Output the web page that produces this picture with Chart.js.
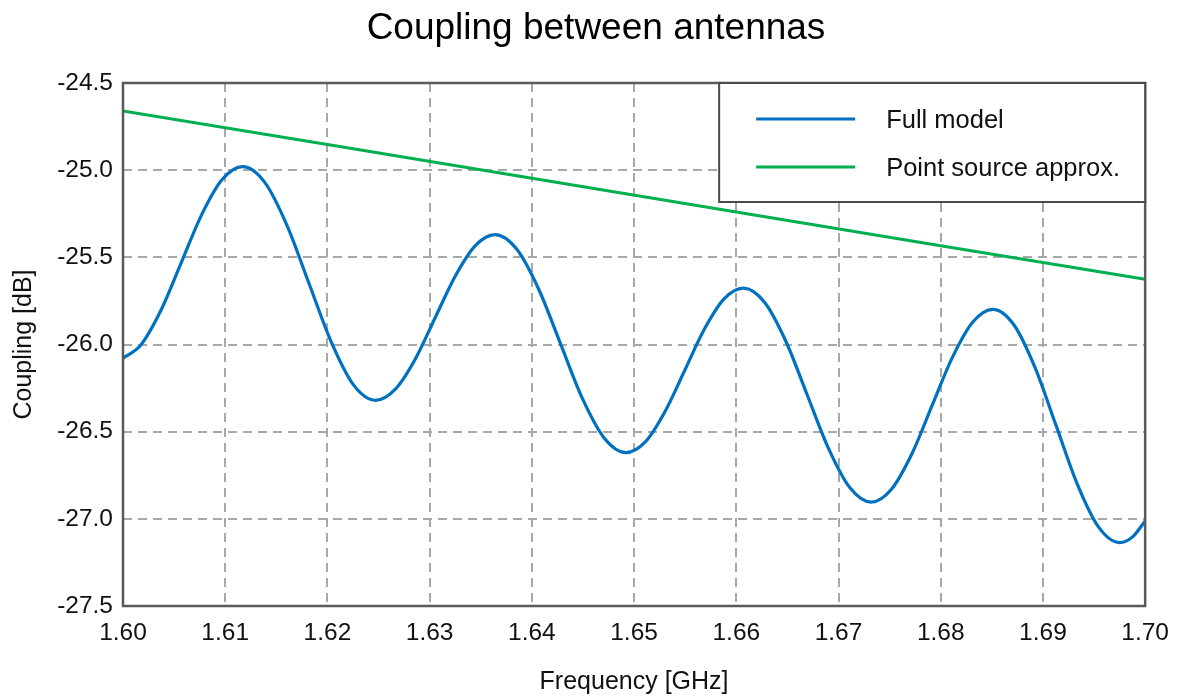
<!DOCTYPE html>
<html>
<head>
<meta charset="utf-8">
<script src="https://cdn.jsdelivr.net/npm/chart.js@4.4.1/dist/chart.umd.min.js"></script>
<style>
    html, body { margin: 0; padding: 0; background: #fff; }
    canvas { display: block; }
</style>
</head>
<body>
<canvas id="myChart" width="1182" height="698"></canvas>
<script>
// frequency [GHz] and coupling [dB]
var fullFreq = [
    1.6000, 1.6017, 1.6037, 1.6057, 1.6077, 1.6097, 1.6117,
    1.61387, 1.61603, 1.6182, 1.62037, 1.62253, 1.6247,
    1.62665, 1.6286, 1.63055, 1.6325, 1.63445, 1.6364,
    1.63853, 1.64067, 1.6428, 1.64493, 1.64707, 1.6492,
    1.65112, 1.65303, 1.65495, 1.65687, 1.65878, 1.6607,
    1.66278, 1.66487, 1.66695, 1.66903, 1.67112, 1.6732,
    1.67518, 1.67717, 1.67915, 1.68113, 1.68312, 1.6851,
    1.68717, 1.68923, 1.6913, 1.69337, 1.69543, 1.6975,
    1.6988, 1.7000
];
var fullCoupling = [
    -26.078, -26.006, -25.805, -25.530, -25.255, -25.054, -24.980,
    -25.070, -25.315, -25.650, -25.985, -26.230, -26.320,
    -26.256, -26.083, -25.845, -25.608, -25.434, -25.370,
    -25.454, -25.683, -25.995, -26.308, -26.536, -26.620,
    -26.557, -26.384, -26.149, -25.913, -25.740, -25.677,
    -25.759, -25.984, -26.291, -26.597, -26.822, -26.904,
    -26.830, -26.628, -26.351, -26.075, -25.872, -25.798,
    -25.888, -26.133, -26.467, -26.802, -27.046, -27.136,
    -27.102, -27.012
];
var pointFreq = [1.60, 1.62, 1.64, 1.66, 1.68, 1.70];
var pointCoupling = [-24.660, -24.853, -25.046, -25.240, -25.433, -25.626];

var xTicks = [1.60, 1.61, 1.62, 1.63, 1.64, 1.65, 1.66, 1.67, 1.68, 1.69, 1.70];
var yTicks = [-27.5, -27.0, -26.5, -26.0, -25.5, -25.0, -24.5];

var chartTitle = 'Coupling between antennas';

var FONT = 'Liberation Sans, Arial, sans-serif';
var textColor = '#111';
var gridColor = '#a8a8a8';

function toXY(xs, ys) {
    return xs.map((x, i) => ({x: x, y: ys[i]}));
}

// title, plot frame and boxed legend in the upper right corner
var frameAndLegend = {
    id: 'frameAndLegend',
    afterDraw: function (chart) {
        const ctx = chart.ctx;
        const a = chart.chartArea;
        ctx.save();

        ctx.font = '37px ' + FONT;
        ctx.fillStyle = '#000';
        ctx.textAlign = 'center';
        ctx.textBaseline = 'middle';
        ctx.fillText(chartTitle, 596, 29);

        ctx.strokeStyle = '#5a5a5a';
        ctx.lineWidth = 2.5;
        ctx.strokeRect(a.left, a.top, a.right - a.left, a.bottom - a.top);

        const w = 426, h = 119;
        const x0 = a.right - w, y0 = a.top;
        ctx.fillStyle = '#fff';
        ctx.fillRect(x0, y0, w, h);
        ctx.strokeStyle = '#4a4a4a';
        ctx.lineWidth = 2;
        ctx.strokeRect(x0, y0, w, h);

        ctx.font = '25.5px ' + FONT;
        ctx.textBaseline = 'middle';
        ctx.textAlign = 'left';
        chart.data.datasets.forEach(function (ds, i) {
            const y = y0 + 36 + 48 * i;
            ctx.strokeStyle = ds.borderColor;
            ctx.lineWidth = 3;
            ctx.beginPath();
            ctx.moveTo(x0 + 37, y);
            ctx.lineTo(x0 + 136, y);
            ctx.stroke();
            ctx.fillStyle = textColor;
            ctx.fillText(ds.label, x0 + 167, y + 2);
        });
        ctx.restore();
    }
};

var myChart = new Chart(document.getElementById('myChart'), {
    type: 'line',
    data: {
        datasets: [{
            label: 'Full model',
            data: toXY(fullFreq, fullCoupling),
            borderColor: '#0070c0',
            borderWidth: 3.2,
            pointRadius: 0,
            cubicInterpolationMode: 'monotone',
        }, {
            label: 'Point source approx.',
            data: toXY(pointFreq, pointCoupling),
            borderColor: '#00b050',
            borderWidth: 3,
            pointRadius: 0,
            tension: 0,
        }]
    },
    options: {
        responsive: false,
        animation: false,
        devicePixelRatio: 1,
        layout: { padding: { left: 0, right: 36, top: 83, bottom: 0 } },
        plugins: {
            legend: { display: false },
            tooltip: { enabled: false },
            title: { display: false },
        },
        scales: {
            x: {
                type: 'linear',
                min: 1.60,
                max: 1.70,
                afterBuildTicks: function (scale) {
                    scale.ticks = xTicks.map(v => ({value: v}));
                },
                afterFit: function (scale) { scale.height = 92; },
                ticks: {
                    color: textColor,
                    font: { family: FONT, size: 24.5 },
                    padding: 13,
                    maxRotation: 0,
                    autoSkip: false,
                    callback: v => v.toFixed(2),
                },
                grid: {
                    color: gridColor,
                    lineWidth: 2,
                    drawTicks: false,
                },
                border: { display: false, dash: [9, 6] },
                title: {
                    display: true,
                    text: 'Frequency [GHz]',
                    color: textColor,
                    font: { family: FONT, size: 25 },
                    padding: { top: 0, bottom: 1 },
                },
            },
            y: {
                type: 'linear',
                min: -27.5,
                max: -24.5,
                afterBuildTicks: function (scale) {
                    scale.ticks = yTicks.map(v => ({value: v}));
                },
                afterFit: function (scale) { scale.width = 123; },
                ticks: {
                    color: textColor,
                    font: { family: FONT, size: 24.5 },
                    padding: 10,
                    autoSkip: false,
                    callback: v => v.toFixed(1),
                },
                grid: {
                    color: gridColor,
                    lineWidth: 2,
                    drawTicks: false,
                },
                border: { display: false, dash: [9, 6] },
                title: {
                    display: true,
                    text: 'Coupling [dB]',
                    color: textColor,
                    font: { family: FONT, size: 25 },
                    padding: { top: 9, bottom: 0 },
                },
            },
        },
    },
    plugins: [frameAndLegend],
});
</script>
</body>
</html>
